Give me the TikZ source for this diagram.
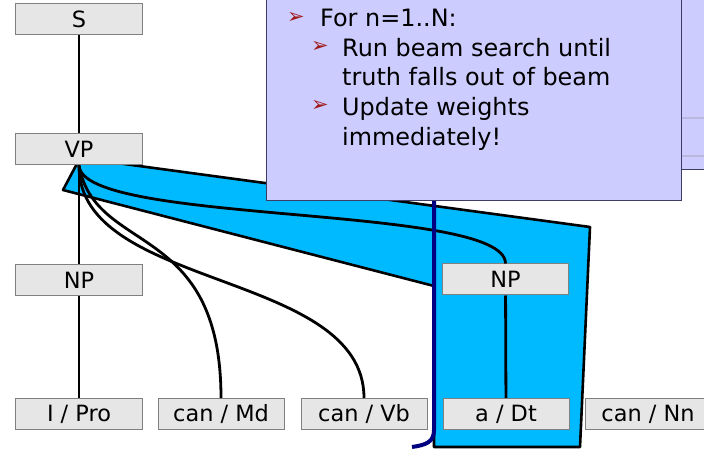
\documentclass[tikz,border=0pt]{standalone}
\usepackage{fontspec}
\setmainfont{DejaVu Sans}
\usepackage{tikz}
\usetikzlibrary{calc}
\definecolor{beam}{HTML}{00BAFF}
\definecolor{note}{HTML}{CCCCFF}
\definecolor{noteline}{HTML}{3C3C64}
\definecolor{truth}{HTML}{000080}
\definecolor{boxfill}{HTML}{E6E6E6}
\definecolor{boxline}{HTML}{808080}
\definecolor{tip}{HTML}{A01818}

\begin{document}
\begin{tikzpicture}[x=1bp, y=-1bp,
    tag/.style={draw=boxline, fill=boxfill, line width=1bp, minimum width=126bp,
      minimum height=31bp, inner sep=0pt, font=\fontsize{22.5}{25}\selectfont},
    edge/.style={line width=2.8bp, black},
    item/.style={anchor=base west, inner sep=0pt, font=\fontsize{24}{28}\selectfont},
    arrowmark/.style={anchor=base west, inner sep=0pt, text=tip, font=\fontsize{21}{21}\selectfont}]
  \useasboundingbox (0,0) rectangle (704,449);

  % slide panel behind the note
  \filldraw[fill=note, draw=noteline, line width=0.8bp] (560,-2) rectangle (706,169);
  \draw[note!75!gray, line width=1.5bp] (681,118) -- (706,118) (681,156) -- (706,156);

  % beam region
  \filldraw[fill=beam, draw=black, line width=2.6bp, line join=round]
    (80,158) -- (590,227) -- (580,447) -- (434,447) -- (434,286) -- (63,190) -- cycle;

  % tree
  \node[tag] (S)   at (79,19.5)  {S};
  \node[tag] (VP)  at (79,149.5) {VP};
  \node[tag] (NPl) at (79,280)   {NP};
  \node[tag] (NPr) at (505.5,279.5) {NP};
  \node[tag] (Pro) at (79,414)   {I / Pro};
  \node[tag] (Md)  at (221,414)  {can / Md};
  \node[tag] (Vb)  at (364,414)  {can / Vb};
  \node[tag] (Dt)  at (506,414)  {a / Dt};
  \node[tag] (Nn)  at (648,414)  {can / Nn};

  \draw[edge] (S) -- (VP);
  \draw[edge] (VP) -- (NPl);
  \draw[edge] (NPl) -- (Pro);
  \draw[edge] (NPr) -- (Dt);
  \draw[edge] (VP.south) .. controls +(16,90) and +(0,-178) .. (Md.north);
  \draw[edge] (VP.south) .. controls +(-1,125) and +(0,-128) .. (Vb.north);
  \draw[edge] (VP.south) .. controls +(3,60) and +(0,-60) .. (NPr.north);

  % truth falls out here
  \draw[truth, line width=4bp] (434,200) -- (434,430)
    .. controls (434,442) and (426,445) .. (412,447);

  % note
  \node[draw=noteline, fill=note, line width=0.8bp, anchor=north west,
    minimum width=415bp, minimum height=201bp, inner sep=0pt] (note) at (266,-1) {};
  \node[arrowmark] (m1) at (287,24)  {➢};
  \node[item] (t1) at (320,27)  {For n=1..N:};
  \node[arrowmark] (m2) at (311,53)  {➢};
  \node[item] (t2) at (342,56.5) {Run beam search until};
  \node[item] (t3) at (342,86)  {truth falls out of beam};
  \node[arrowmark] (m3) at (311,112) {➢};
  \node[item] (t4) at (342,115.5) {Update weights};
  \node[item] (t5) at (342,145.5) {immediately!};
\end{tikzpicture}
\end{document}
